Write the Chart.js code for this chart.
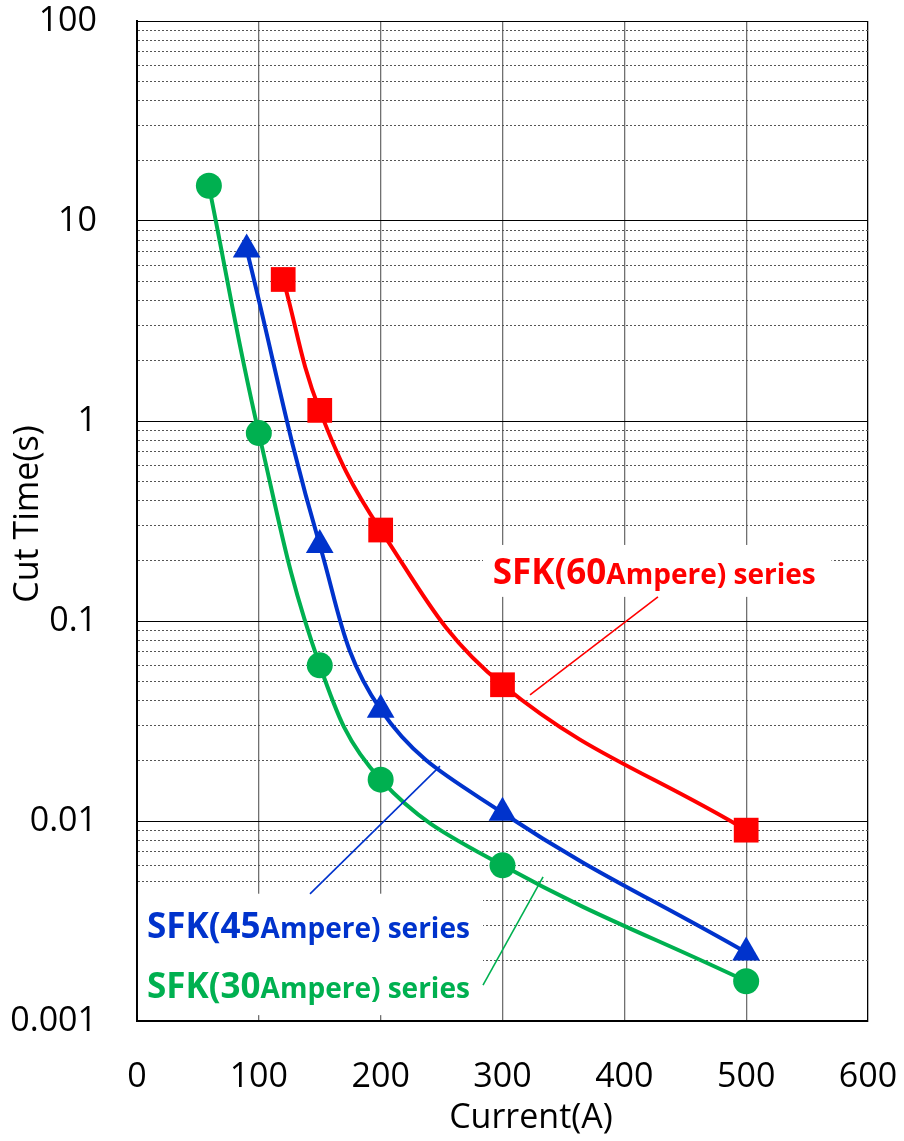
<!DOCTYPE html>
<html>
<head>
<meta charset="utf-8">
<script src="https://cdn.jsdelivr.net/npm/chart.js@4"></script>
<style>
html,body{margin:0;padding:0;background:#fff;}
#wrap{width:904px;height:1141px;}
</style>
</head>
<body>
<div id="wrap"><canvas id="c" width="904" height="1141"></canvas></div>
<script>
// ---- data ----
const xTickValues = [0, 100, 200, 300, 400, 500, 600];
const yDecades = [0.001, 0.01, 0.1, 1, 10, 100];
const yTickLabels = ['0.001', '0.01', '0.1', '1', '10', '100'];
const yMinorMantissas = [2, 3, 4, 5, 6, 7, 8, 9];

const sfk30Current = [59, 100, 150, 200, 300, 500];
const sfk30Time    = [15, 0.87, 0.06, 0.0161, 0.0060, 0.00158];

const sfk45Current = [90, 150, 200, 300, 500];
const sfk45Time    = [7.2, 0.24, 0.036, 0.011, 0.0022];

const sfk60Current = [120, 150, 200, 300, 500];
const sfk60Time    = [5.1, 1.13, 0.285, 0.048, 0.009];

const xTitle = 'Current(A)';
const yTitle = 'Cut Time(s)';

// annotation labels (data coordinates)
const labels = [
  {big: 'SFK(60', small: 'Ampere) series', color: '#FF0000', x: 292, y: 0.153,
   line: [427.6, 0.132, 322.6, 0.0427]},
  {big: 'SFK(45', small: 'Ampere) series', color: '#0033CC', x: 8.2, y: 0.0026,
   line: [142, 0.00432, 248.7, 0.0188]},
  {big: 'SFK(30', small: 'Ampere) series', color: '#00B050', x: 8.2, y: 0.0013,
   line: [284, 0.00151, 333.3, 0.00525]}
];
// white backgrounds behind labels [x0, y0, x1, y1] in data units
const labelBoxes = [
  [284, 0.24, 570, 0.132],
  [0.8, 0.00433, 284, 0.00107]
];

// ---- helpers ----
function isDecade(v) {
  return yDecades.some(d => Math.abs(Math.log10(v) - Math.log10(d)) < 1e-6);
}
function decadeLabel(v) {
  for (let i = 0; i < yDecades.length; i++) {
    if (Math.abs(Math.log10(v) - Math.log10(yDecades[i])) < 1e-6) return yTickLabels[i];
  }
  return '';
}
function pts(xs, ys) { return xs.map((x, i) => ({x: x, y: ys[i]})); }

const FONT = '"Open Sans", "Noto Sans", sans-serif';

const annotPlugin = {
  id: 'annot',
  beforeDatasetsDraw(chart) {
    const ctx = chart.ctx, xs = chart.scales.x, ys = chart.scales.y;
    ctx.save();
    ctx.fillStyle = '#fff';
    labelBoxes.forEach(b => {
      const x0 = xs.getPixelForValue(b[0]), y0 = ys.getPixelForValue(b[1]);
      const x1 = xs.getPixelForValue(b[2]), y1 = ys.getPixelForValue(b[3]);
      ctx.fillRect(x0, y0, x1 - x0, y1 - y0);
    });
    ctx.restore();
  },
  afterDatasetsDraw(chart) {
    const ctx = chart.ctx, xs = chart.scales.x, ys = chart.scales.y;
    ctx.save();
    labels.forEach(l => {
      ctx.strokeStyle = l.color;
      ctx.lineWidth = 1.6;
      ctx.beginPath();
      ctx.moveTo(xs.getPixelForValue(l.line[0]), ys.getPixelForValue(l.line[1]));
      ctx.lineTo(xs.getPixelForValue(l.line[2]), ys.getPixelForValue(l.line[3]));
      ctx.stroke();
      const px = xs.getPixelForValue(l.x), py = ys.getPixelForValue(l.y);
      ctx.fillStyle = l.color;
      ctx.textBaseline = 'alphabetic';
      ctx.textAlign = 'left';
      ctx.font = 'bold 35px ' + FONT;
      ctx.fillText(l.big, px, py);
      const w = ctx.measureText(l.big).width;
      ctx.font = 'bold 28px ' + FONT;
      ctx.fillText(l.small, px + w, py);
    });
    ctx.restore();
  },
  afterDraw(chart) {
    const ctx = chart.ctx, area = chart.chartArea;
    ctx.save();
    ctx.fillStyle = '#000';
    ctx.font = '34px ' + FONT;
    ctx.textAlign = 'center';
    ctx.textBaseline = 'middle';
    ctx.fillText(xTitle, 531, 1118);
    ctx.translate(28, (area.top + area.bottom) / 2 - 7);
    ctx.rotate(-Math.PI / 2);
    ctx.fillText(yTitle, 0, 0);
    ctx.restore();
  }
};

function ds(label, xs, ys, color, style, radius) {
  return {
    label: label,
    data: pts(xs, ys),
    borderColor: color,
    backgroundColor: color,
    borderWidth: 4,
    pointStyle: style,
    pointRadius: radius,
    pointHoverRadius: radius,
    pointBorderWidth: 0,
    tension: 0.4,
    fill: false
  };
}

new Chart(document.getElementById('c'), {
  type: 'line',
  data: {
    datasets: [
      ds('SFK(30Ampere) series', sfk30Current, sfk30Time, '#00B050', 'circle', 13),
      ds('SFK(45Ampere) series', sfk45Current, sfk45Time, '#0033CC', 'triangle', 16),
      ds('SFK(60Ampere) series', sfk60Current, sfk60Time, '#FF0000', 'rect', 17.5)
    ]
  },
  options: {
    responsive: false,
    animation: false,
    events: [],
    layout: {padding: {top: 21, right: 36, left: 0, bottom: 0}},
    plugins: {legend: {display: false}, tooltip: {enabled: false}},
    scales: {
      x: {
        type: 'linear',
        min: 0, max: 600,
        afterBuildTicks(scale) { scale.ticks = xTickValues.map(v => ({value: v})); },
        afterFit(scale) {
          scale.height = 120;
          scale.paddingLeft = 0; scale.paddingRight = 0;
          scale.paddingTop = 0; scale.paddingBottom = 0;
        },
        ticks: {font: {family: FONT, size: 34}, color: '#000', padding: 36, autoSkip: false, maxRotation: 0},
        grid: {
          color: c => (c.tick && c.tick.value === 600) ? '#000' : '#707070',
          lineWidth: 1.3,
          drawTicks: false
        },
        border: {color: '#000', width: 2}
      },
      y: {
        type: 'logarithmic',
        min: 0.001, max: 100,
        afterBuildTicks(scale) {
          const t = [];
          yDecades.forEach((d, i) => {
            t.push({value: d});
            if (i < yDecades.length - 1) yMinorMantissas.forEach(m => t.push({value: d * m}));
          });
          scale.ticks = t;
        },
        afterFit(scale) {
          scale.width = 137;
          scale.paddingLeft = 0; scale.paddingRight = 0;
          scale.paddingTop = 0; scale.paddingBottom = 0;
        },
        ticks: {
          font: {family: FONT, size: 34}, color: '#000', padding: 40, autoSkip: false,
          callback: v => decadeLabel(v)
        },
        grid: {
          color: c => (c.tick && isDecade(c.tick.value)) ? '#000' : '#555',
          lineWidth: 1,
          drawTicks: false
        },
        border: {
          color: '#000', width: 2,
          dash: c => (c.tick && !isDecade(c.tick.value)) ? [2, 2] : []
        }
      }
    }
  },
  plugins: [annotPlugin]
});
</script>
</body>
</html>
